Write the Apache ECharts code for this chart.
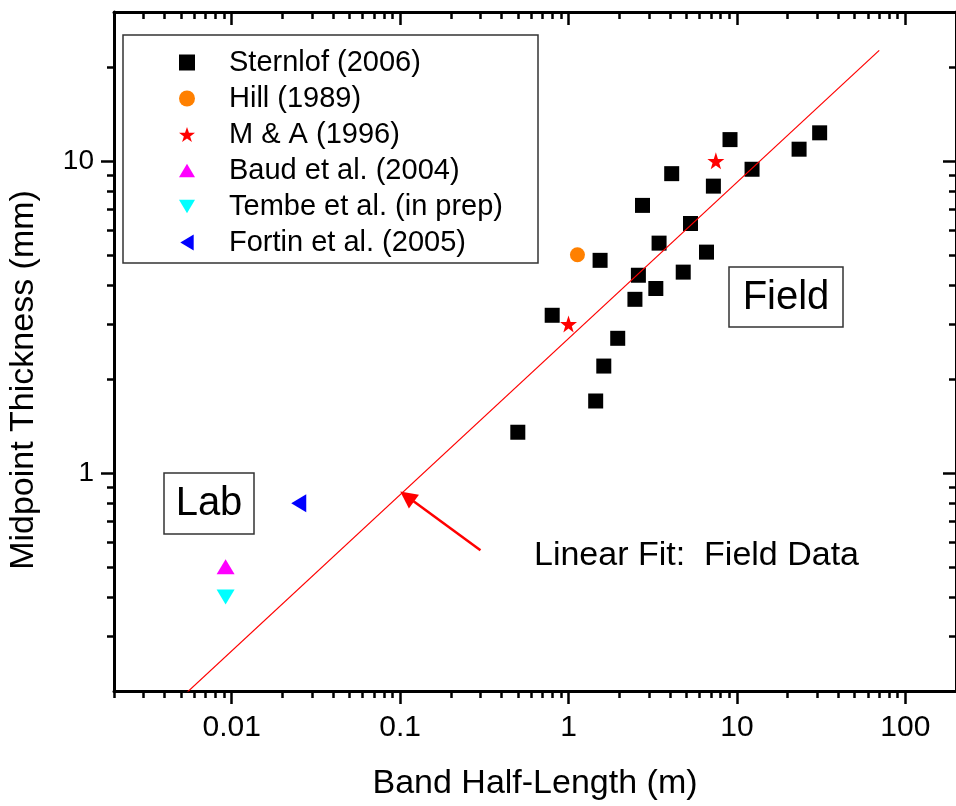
<!DOCTYPE html>
<html>
<head>
<meta charset="utf-8">
<script src="https://cdn.jsdelivr.net/npm/echarts@6/dist/echarts.min.js"></script>
<style>
  html, body { margin: 0; background: #fff; }
  #chart { width: 956px; height: 806px; }
</style>
</head>
<body>
<div id="chart"></div>
<script>
const FONT = '"Liberation Sans", Arial, sans-serif';

// band half-length (m) vs midpoint thickness (mm)
const sternlofX = [9.1, 31, 23.4, 12.3, 7.25, 4.1, 2.75, 5.3, 3.45, 1.54, 6.6, 2.6, 4.8, 3.3, 2.48, 0.8, 1.96, 1.62, 1.45, 0.5];
const sternlofY = [11.7, 12.3, 10.9, 9.4, 8.3, 9.1, 7.2, 6.3, 5.45, 4.8, 5.1, 4.3, 4.4, 3.9, 3.6, 3.2, 2.7, 2.2, 1.7, 1.35];
const hillX = [1.13];
const hillY = [5.0];
const maX = [1.0, 7.5];
const maY = [3.0, 10.0];
const baudX = [0.0092];
const baudY = [0.5];
const tembeX = [0.0092];
const tembeY = [0.4];
const fortinX = [0.025];
const fortinY = [0.8];

// linear fit (field data), end points
const fitX = [0.005, 70];
const fitY = [0.19, 22.6];
const arrowFrom = [0.3, 0.565];
const arrowTo = [0.11, 0.84];

const xMajor = [0.01, 0.1, 1, 10, 100];
const xMinor = [0.002, 0.003, 0.004, 0.005, 0.006, 0.007, 0.008, 0.009,
  0.02, 0.03, 0.04, 0.05, 0.06, 0.07, 0.08, 0.09,
  0.2, 0.3, 0.4, 0.5, 0.6, 0.7, 0.8, 0.9,
  2, 3, 4, 5, 6, 7, 8, 9,
  20, 30, 40, 50, 60, 70, 80, 90];
const yMajor = [1, 10];
const yMinor = [0.3, 0.4, 0.5, 0.6, 0.7, 0.8, 0.9, 2, 3, 4, 5, 6, 7, 8, 9, 20];

const zip = (xs, ys) => xs.map((x, i) => [x, ys[i]]);

const STAR = "path://M50,0 L61.8,35.1 L98.1,35.1 L68.8,56.8 L79.4,91 L50,70 L20.6,91 L31.2,56.8 L1.9,35.1 L38.2,35.1 Z";
const TRI_UP = "path://M9,0 L18,15 L0,15 Z";
const TRI_DOWN = "path://M0,0 L18,0 L9,15 Z";
const TRI_LEFT = "path://M15,0 L15,18 L0,9 Z";

function logAxis(position, min, max, ticks, len, inside, withLine, labels) {
  return {
    type: "log",
    logBase: 10,
    position: position,
    min: min,
    max: max,
    splitLine: { show: false },
    axisLine: { show: withLine, lineStyle: { color: "#000", width: 3 } },
    axisTick: {
      show: true,
      inside: inside,
      length: len,
      customValues: ticks,
      lineStyle: { color: "#000", width: 2.5 },
    },
    axisLabel: labels
      ? Object.assign({ customValues: ticks, color: "#000", fontFamily: FONT }, labels)
      : { show: false },
  };
}

const chart = echarts.init(document.getElementById("chart"));

const xBottom = logAxis("bottom", 0.002, 200, xMajor, 13, false, true, { fontSize: 30, margin: 22 });
xBottom.name = "Band Half-Length (m)";
xBottom.nameLocation = "middle";
xBottom.nameGap = 76;
xBottom.nameTextStyle = { fontSize: 34, color: "#000", fontFamily: FONT };

chart.setOption({
  animation: false,
  backgroundColor: "#fff",
  grid: { left: 114, top: 12, width: 851, height: 687 },
  xAxis: [
    xBottom,
    logAxis("bottom", 0.002, 200, xMinor, 7, false, false, null),
    logAxis("top", 0.002, 200, xMajor, 13, true, true, null),
    logAxis("top", 0.002, 200, xMinor, 7, true, false, null),
  ],
  yAxis: [
    logAxis("left", 0.2, 30, yMajor, 13, false, true, { fontSize: 28, margin: 20 }),
    logAxis("left", 0.2, 30, yMinor, 7, false, false, null),
    logAxis("right", 0.2, 30, yMajor, 13, true, true, null),
    logAxis("right", 0.2, 30, yMinor, 7, true, false, null),
  ],
  legend: {
    orient: "vertical",
    left: 179,
    top: 48,
    padding: 0,
    itemWidth: 16,
    itemHeight: 16,
    itemGap: 7,
    selectedMode: false,
    textStyle: { fontSize: 29, color: "#000", fontFamily: FONT, padding: [0, 0, 0, 29] },
    data: ["Sternlof (2006)", "Hill (1989)", "M & A (1996)", "Baud et al. (2004)", "Tembe et al. (in prep)", "Fortin et al. (2005)"],
  },
  series: [
    {
      name: "Linear Fit",
      type: "line",
      data: zip(fitX, fitY),
      showSymbol: false,
      symbol: "none",
      clip: true,
      lineStyle: { color: "#ff0000", width: 1.2 },
      markLine: {
        silent: true,
        symbol: ["none", "triangle"],
        symbolSize: 17,
        label: { show: false },
        lineStyle: { color: "#ff0000", width: 2.5, type: "solid" },
        itemStyle: { color: "#ff0000" },
        data: [[{ coord: arrowFrom }, { coord: arrowTo }]],
      },
    },
    {
      name: "Sternlof (2006)",
      type: "scatter",
      symbol: "rect",
      symbolSize: 15,
      itemStyle: { color: "#000", opacity: 1 },
      data: zip(sternlofX, sternlofY),
    },
    {
      name: "Hill (1989)",
      type: "scatter",
      symbol: "circle",
      symbolSize: 15,
      itemStyle: { color: "#ff8000", opacity: 1 },
      data: zip(hillX, hillY),
    },
    {
      name: "M & A (1996)",
      type: "scatter",
      symbol: STAR,
      symbolSize: 17,
      itemStyle: { color: "#ff0000", opacity: 1 },
      data: zip(maX, maY),
    },
    {
      name: "Baud et al. (2004)",
      type: "scatter",
      symbol: TRI_UP,
      symbolSize: [18, 15],
      itemStyle: { color: "#ff00ff", opacity: 1 },
      data: zip(baudX, baudY),
    },
    {
      name: "Tembe et al. (in prep)",
      type: "scatter",
      symbol: TRI_DOWN,
      symbolSize: [18, 15],
      itemStyle: { color: "#00ffff", opacity: 1 },
      data: zip(tembeX, tembeY),
    },
    {
      name: "Fortin et al. (2005)",
      type: "scatter",
      symbol: TRI_LEFT,
      symbolSize: [15, 18],
      itemStyle: { color: "#0000ff", opacity: 1 },
      data: zip(fortinX, fortinY),
    },
  ],
  graphic: [
    {
      type: "rect",
      shape: { x: 123, y: 35, width: 415, height: 228 },
      style: { fill: "none", stroke: "#333", lineWidth: 1.5 },
      z: 1,
    },
    {
      type: "rect",
      shape: { x: 729, y: 267, width: 114, height: 60 },
      style: { fill: "#fff", stroke: "#333", lineWidth: 1.5 },
      z: 1,
    },
    {
      type: "text",
      x: 786,
      y: 298,
      style: { text: "Field", fontSize: 40, fontFamily: FONT, fill: "#000", align: "center", verticalAlign: "middle" },
      z: 2,
    },
    {
      type: "rect",
      shape: { x: 164, y: 473, width: 90, height: 61 },
      style: { fill: "#fff", stroke: "#333", lineWidth: 1.5 },
      z: 1,
    },
    {
      type: "text",
      x: 209,
      y: 504,
      style: { text: "Lab", fontSize: 40, fontFamily: FONT, fill: "#000", align: "center", verticalAlign: "middle" },
      z: 2,
    },
    {
      type: "text",
      x: 534,
      y: 556,
      style: { text: "Linear Fit:  Field Data", fontSize: 34, fontFamily: FONT, fill: "#000", align: "left", verticalAlign: "middle" },
      z: 2,
    },
    {
      type: "text",
      x: 24,
      y: 380,
      rotation: Math.PI / 2,
      style: { text: "Midpoint Thickness (mm)", fontSize: 34, fontFamily: FONT, fill: "#000", align: "center", verticalAlign: "middle" },
      z: 2,
    },
  ],
});
</script>
</body>
</html>
